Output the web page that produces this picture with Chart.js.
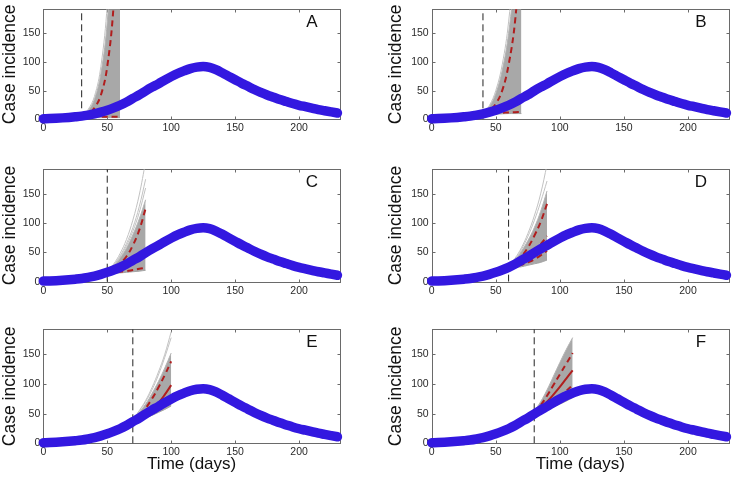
<!DOCTYPE html>
<html>
<head>
<meta charset="utf-8">
<script src="https://cdn.jsdelivr.net/npm/chart.js@4.4.1/dist/chart.umd.min.js"></script>
<style>
  body { margin: 0; background: #fff; width: 733px; height: 478px; position: relative; overflow: hidden; }
  canvas { position: absolute; }
</style>
</head>
<body>
<script>
// observed epidemic curve (every 5 days)
const days = [0,5,10,15,20,25,30,35,40,45,50,55,60,65,70,75,80,85,90,95,100,105,110,115,120,125,130,135,140,145,150,155,160,165,170,175,180,185,190,195,200,205,210,215,220,225,230];
const incidence = [1,1.3,1.8,2.5,3.3,4.3,5.5,7.3,9.5,12.5,16,20,24.5,30,36.5,42.5,49.5,56,62,68.5,74.5,80,84.5,88.5,91,92,90.5,86.5,81,75,69,63,57.5,52,47,42.5,38.5,34.5,31,27.5,24.5,22,19.5,17,15,13,11];

// one row per panel A..F
const panelLabels = ['A','B','C','D','E','F'];
const forecastStart = [30,40,50,60,70,80];
const forecastOffsets = [0,5,10,15,20,25,30];

const fanLow = [
  [4,3,3,3,3,3,3],
  [9,9,9,9.5,10,10,10],
  [15,14.5,15,16,17,18,19.5],
  [23,24,25.5,28,30.5,33,37],
  [36,39,43,47,52,57,63],
  [49,52,56,61,66,71,77]
];
const fanHigh = [
  [6,15,35,80,170,350,700],
  [10,22,45,85,150,260,450],
  [17,27,40,57,80,107,140],
  [26,37,52,70,92,120,155],
  [40,52,66,84,104,127,152],
  [54,70,90,113,136,158,178]
];
const redUpper = [
  [5,9,20,42,92,200,420],
  [9,15,27,50,95,170,310],
  [16,22,31,43,62,88,125],
  [24,32,43,58,78,102,133],
  [37,46,59,75,94,115,138],
  [52,64,80,98,116,134,152]
];
const redMid = [
  null,
  null,
  [16,18,21,26,33,42,53],
  [24,29,36,44,53,64,78],
  [37,42,49,58,68,82,98],
  [52,60,70,82,95,109,123]
];
const redLower = [
  [5,4.5,4.5,4.5,4.5,4.5,4.5],
  [9,10,11,11.5,12,12.5,13],
  [16,16,17,18,20,22,24],
  [24,26,29,33,38,45,53],
  [37,40,45,50,56,64,73],
  [50,55,61,70,79,88,98]
];
const outlierRuns = [
  [[6,17,40,92,200,400,800]],
  [[10,24,50,95,170,300,520]],
  [[17,30,48,72,105,148,205],[17,28,44,65,92,128,175],[17,27,42,61,86,118,160]],
  [[26,40,58,82,112,150,200],[26,38,55,77,104,136,172]],
  [[40,55,72,94,120,150,188],[40,54,70,90,115,145,178]],
  []
];

const xTicks = [0,50,100,150,200];
const yTicks = [0,50,100,150];

// layout of each panel on the page
const boxes = [
  {left:0,   top:0,   w:366, h:160, yw:43.3, pr:26, pt:4,   xh:40.7},
  {left:386, top:0,   w:347, h:160, yw:45.7, pr:4,  pt:4,   xh:40.7},
  {left:0,   top:160, w:366, h:160, yw:43.3, pr:26, pt:5,   xh:38.3},
  {left:386, top:160, w:347, h:160, yw:45.7, pr:4,  pt:5,   xh:38.3},
  {left:0,   top:320, w:366, h:158, yw:43.3, pr:26, pt:7.3, xh:34.7},
  {left:386, top:320, w:347, h:158, yw:45.7, pr:4,  pt:7.3, xh:34.7}
];

const FONT = '"Liberation Sans", Arial, Helvetica, sans-serif';
const BLUE = '#3318e0';
const RED = '#b01e1e';

function pts(start, vals) {
  return vals.map((v, i) => ({x: start + forecastOffsets[i], y: v}));
}

// box + inward ticks like the original, and the panel letter
const frame = {
  id: 'frame',
  beforeDatasetsDraw(chart) {
    const {ctx, chartArea: a, scales: {x, y}} = chart;
    ctx.save();
    ctx.strokeStyle = '#6a6a6a';
    ctx.lineWidth = 1;
    const L = Math.round(a.left) + 0.5, R = Math.round(a.right) + 0.5;
    const T = Math.round(a.top) + 0.5, B = Math.round(a.bottom) + 0.5;
    ctx.strokeRect(L, T, R - L, B - T);
    ctx.beginPath();
    x.ticks.forEach(t => {
      const px = Math.round(x.getPixelForValue(t.value)) + 0.5;
      ctx.moveTo(px, B); ctx.lineTo(px, B - 3);
      ctx.moveTo(px, T); ctx.lineTo(px, T + 3);
    });
    y.ticks.forEach(t => {
      const py = Math.round(y.getPixelForValue(t.value)) + 0.5;
      ctx.moveTo(L, py); ctx.lineTo(L + 3, py);
      ctx.moveTo(R, py); ctx.lineTo(R - 3, py);
    });
    ctx.stroke();
    ctx.restore();
  },
  afterDraw(chart, args, opts) {
    const {ctx, chartArea: a} = chart;
    ctx.save();
    ctx.font = '17px ' + FONT;
    ctx.fillStyle = '#111';
    ctx.textAlign = 'center';
    ctx.textBaseline = 'middle';
    ctx.fillText(opts.letter, a.right - 28, a.top + 13);
    ctx.restore();
  }
};

panelLabels.forEach((letter, i) => {
  const b = boxes[i];
  const cv = document.createElement('canvas');
  cv.width = b.w; cv.height = b.h;
  cv.style.left = b.left + 'px'; cv.style.top = b.top + 'px';
  document.body.appendChild(cv);

  const s = forecastStart[i];
  const bottomRow = i >= 4;
  const sets = [];

  sets.push({ // observed data, thick marker band
    data: days.map((d, k) => ({x: d, y: incidence[k]})),
    borderColor: BLUE, backgroundColor: BLUE, borderWidth: 9.5,
    borderCapStyle: 'round', borderJoinStyle: 'round',
    pointRadius: 0, clip: 6, cubicInterpolationMode: 'monotone'
  });
  sets.push({
    data: pts(s, redUpper[i]), borderColor: RED, borderWidth: 2,
    borderDash: [6, 4], pointRadius: 0, tension: 0.4
  });
  if (redMid[i]) {
    sets.push({
      data: pts(s, redMid[i]), borderColor: RED, borderWidth: 2,
      borderDash: bottomRow ? [] : [6, 4], pointRadius: 0, tension: 0.4
    });
  }
  sets.push({
    data: pts(s, redLower[i]), borderColor: RED, borderWidth: 2,
    borderDash: [6, 4], pointRadius: 0, tension: 0.4
  });
  sets.push({ // end of calibration period
    data: [{x: s, y: 0}, {x: s, y: 192}], borderColor: '#222', borderWidth: 1,
    borderDash: [7, 4], pointRadius: 0
  });
  outlierRuns[i].forEach(run => {
    sets.push({
      data: pts(s, run), borderColor: '#c2c2c2', borderWidth: 1,
      pointRadius: 0, tension: 0.4
    });
  });
  sets.push({
    data: pts(s, fanLow[i]), borderColor: '#a4a4a4', borderWidth: 1,
    pointRadius: 0, tension: 0.4
  });
  sets.push({
    data: pts(s, fanHigh[i]), borderColor: '#b4b4b4', borderWidth: 1,
    backgroundColor: '#a8a8a8', fill: '-1', pointRadius: 0, tension: 0.4
  });

  new Chart(cv.getContext('2d'), {
    type: 'line',
    data: { datasets: sets },
    options: {
      responsive: false,
      animation: false,
      devicePixelRatio: 1,
      layout: { padding: { left: 0, right: b.pr, top: b.pt, bottom: 0 } },
      plugins: { legend: { display: false }, tooltip: { enabled: false }, frame: { letter: letter } },
      scales: {
        x: {
          type: 'linear', min: 0, max: 232,
          grid: { display: false, drawTicks: false }, border: { display: false },
          afterBuildTicks: sc => { sc.ticks = xTicks.map(v => ({value: v})); },
          afterFit: sc => { sc.height = b.xh; },
          ticks: { padding: 3, color: '#2a2a2a', font: { size: 10.5, family: FONT }, maxRotation: 0 },
          title: {
            display: bottomRow, text: 'Time (days)', color: '#111',
            font: { size: 17, family: FONT }, padding: { top: 0, bottom: 3 }
          }
        },
        y: {
          min: 0, max: 192,
          grid: { display: false, drawTicks: false }, border: { display: false },
          afterBuildTicks: sc => { sc.ticks = yTicks.map(v => ({value: v})); },
          afterFit: sc => { sc.width = b.yw; },
          ticks: { padding: 3, color: '#2a2a2a', font: { size: 10.5, family: FONT } },
          title: {
            display: true, text: 'Case incidence', color: '#111',
            font: { size: 17.5, family: FONT }, padding: 0
          }
        }
      }
    },
    plugins: [frame]
  });
});
</script>
</body>
</html>
